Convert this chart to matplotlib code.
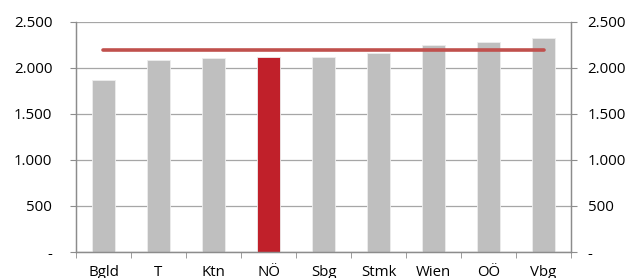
import matplotlib.pyplot as plt
import numpy as np
from matplotlib.ticker import FuncFormatter

categories = ["Bgld", "T", "Ktn", "NÖ", "Sbg", "Stmk", "Wien", "OÖ", "Vbg"]
values = [1870, 2090, 2105, 2120, 2116, 2166, 2250, 2285, 2322]
average = 2200
highlight = "NÖ"

plt.rcParams["font.family"] = ["Open Sans", "DejaVu Sans"]


def fmt(v, pos=None):
    if v == 0:
        return "-"
    return f"{v:,.0f}".replace(",", ".")


fig = plt.figure(figsize=(6.31, 2.78), dpi=100)
ax = fig.add_axes([0.1204, 0.0935, 0.7846, 0.8275])

x = np.arange(len(categories))
colors = ["#C0202A" if c == highlight else "#BFBFBF" for c in categories]
ax.bar(x, values, width=0.42, color=colors, edgecolor="#EDEDED", linewidth=0.6, zorder=2)
ax.plot([x[0], x[-1]], [average, average], color="#C0504D", linewidth=2.6, zorder=3,
        solid_capstyle="round")

ax.set_xlim(-0.5, len(categories) - 0.5)
ax.set_ylim(0, 2500)
ax.set_yticks(np.arange(0, 2501, 500))
ax.yaxis.set_major_formatter(FuncFormatter(fmt))
ax.grid(axis="y", color="#A6A6A6", linewidth=0.9, zorder=1)

ax.set_xticks(x)
ax.set_xticklabels(categories)
ax.set_xticks(np.arange(-0.5, len(categories)), minor=True)
ax.tick_params(axis="x", which="major", length=0, pad=9, labelsize=10.8, colors="#000000")
ax.tick_params(axis="x", which="minor", length=4, color="#8C8C8C", direction="out")
ax.tick_params(axis="y", length=4, color="#8C8C8C", labelsize=10.8, pad=13)

# right-hand axis mirrors the left one
ax2 = ax.twinx()
ax2.set_ylim(ax.get_ylim())
ax2.set_yticks(ax.get_yticks())
ax2.yaxis.set_major_formatter(FuncFormatter(fmt))
ax2.tick_params(axis="y", length=4, color="#8C8C8C", labelsize=10.8, pad=8)

for a in (ax, ax2):
    for side in ["left", "right", "bottom"]:
        a.spines[side].set_color("#8C8C8C")
        a.spines[side].set_linewidth(0.9)
    a.spines["top"].set_visible(False)

fig.savefig("out.png", dpi=100)
